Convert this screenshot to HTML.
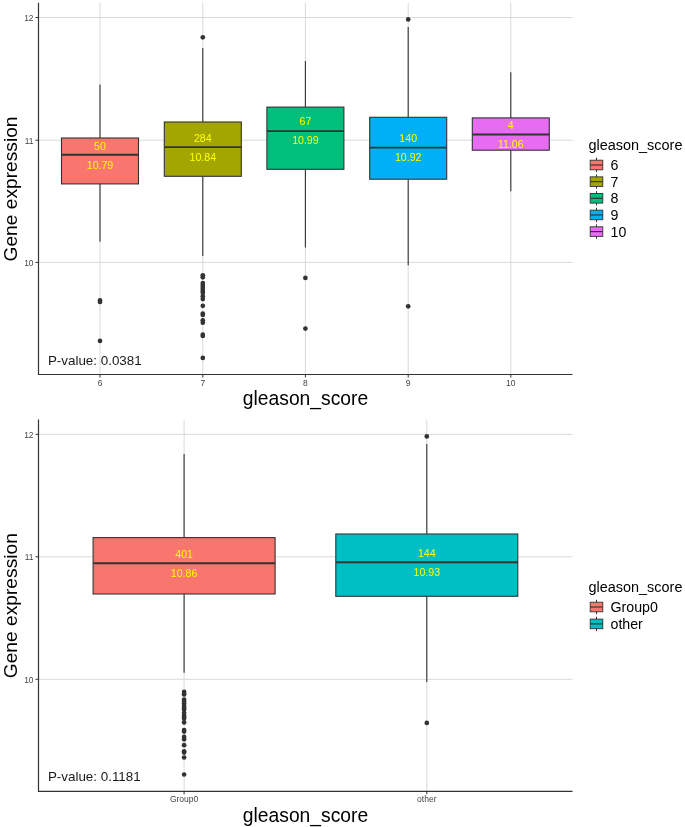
<!DOCTYPE html>
<html><head><meta charset="utf-8"><title>Gene expression by gleason_score</title>
<style>
html,body{margin:0;padding:0;background:#fff;}
body{width:685px;height:827px;overflow:hidden;}
svg{display:block;font-family:"Liberation Sans", sans-serif;}
</style></head><body>
<svg width="685" height="827" viewBox="0 0 685 827">
<rect width="685" height="827" fill="#ffffff"/>
<g id="top">
<line x1="38.5" x2="572.5" y1="17.5" y2="17.5" stroke="#d9d9d9" stroke-width="1"/>
<line x1="38.5" x2="572.5" y1="140.2" y2="140.2" stroke="#d9d9d9" stroke-width="1"/>
<line x1="38.5" x2="572.5" y1="262.4" y2="262.4" stroke="#d9d9d9" stroke-width="1"/>
<line x1="100" x2="100" y1="2.8" y2="374.5" stroke="#d9d9d9" stroke-width="1"/>
<line x1="202.8" x2="202.8" y1="2.8" y2="374.5" stroke="#d9d9d9" stroke-width="1"/>
<line x1="305.4" x2="305.4" y1="2.8" y2="374.5" stroke="#d9d9d9" stroke-width="1"/>
<line x1="408.2" x2="408.2" y1="2.8" y2="374.5" stroke="#d9d9d9" stroke-width="1"/>
<line x1="510.8" x2="510.8" y1="2.8" y2="374.5" stroke="#d9d9d9" stroke-width="1"/>
<line x1="100" x2="100" y1="84.6" y2="138" stroke="#333333" stroke-width="1.1"/>
<line x1="100" x2="100" y1="183.9" y2="241.7" stroke="#333333" stroke-width="1.1"/>
<rect x="61.5" y="138" width="77.0" height="45.900000000000006" fill="#F8766D" stroke="#333333" stroke-width="1.1"/>
<line x1="61.5" x2="138.5" y1="154.8" y2="154.8" stroke="#333333" stroke-width="1.95"/>
<circle cx="100" cy="300.4" r="2.35" fill="#333333"/>
<circle cx="100" cy="302" r="2.35" fill="#333333"/>
<circle cx="100" cy="340.9" r="2.35" fill="#333333"/>
<text x="100" y="149.9" font-size="10.6" fill="#ffff00" text-anchor="middle">50</text>
<text x="100" y="169" font-size="10.6" fill="#ffff00" text-anchor="middle">10.79</text>
<line x1="202.8" x2="202.8" y1="48" y2="122" stroke="#333333" stroke-width="1.1"/>
<line x1="202.8" x2="202.8" y1="176.3" y2="256" stroke="#333333" stroke-width="1.1"/>
<rect x="164.3" y="122" width="77.0" height="54.30000000000001" fill="#A3A500" stroke="#333333" stroke-width="1.1"/>
<line x1="164.3" x2="241.3" y1="147.1" y2="147.1" stroke="#333333" stroke-width="1.95"/>
<circle cx="202.8" cy="37.3" r="2.35" fill="#333333"/>
<circle cx="202.8" cy="275.3" r="2.35" fill="#333333"/>
<circle cx="202.8" cy="277.3" r="2.35" fill="#333333"/>
<circle cx="202.8" cy="283" r="2.35" fill="#333333"/>
<circle cx="202.8" cy="285" r="2.35" fill="#333333"/>
<circle cx="202.8" cy="287" r="2.35" fill="#333333"/>
<circle cx="202.8" cy="289" r="2.35" fill="#333333"/>
<circle cx="202.8" cy="291" r="2.35" fill="#333333"/>
<circle cx="202.8" cy="292.7" r="2.35" fill="#333333"/>
<circle cx="202.8" cy="296.2" r="2.35" fill="#333333"/>
<circle cx="202.8" cy="299.1" r="2.35" fill="#333333"/>
<circle cx="202.8" cy="305.8" r="2.35" fill="#333333"/>
<circle cx="202.8" cy="313.5" r="2.35" fill="#333333"/>
<circle cx="202.8" cy="315" r="2.35" fill="#333333"/>
<circle cx="202.8" cy="320.3" r="2.35" fill="#333333"/>
<circle cx="202.8" cy="322.7" r="2.35" fill="#333333"/>
<circle cx="202.8" cy="334.7" r="2.35" fill="#333333"/>
<circle cx="202.8" cy="336" r="2.35" fill="#333333"/>
<circle cx="202.8" cy="357.9" r="2.35" fill="#333333"/>
<text x="202.8" y="141.6" font-size="10.6" fill="#ffff00" text-anchor="middle">284</text>
<text x="202.8" y="160.6" font-size="10.6" fill="#ffff00" text-anchor="middle">10.84</text>
<line x1="305.4" x2="305.4" y1="60.9" y2="107.1" stroke="#333333" stroke-width="1.1"/>
<line x1="305.4" x2="305.4" y1="169.3" y2="247.5" stroke="#333333" stroke-width="1.1"/>
<rect x="266.9" y="107.1" width="77.0" height="62.20000000000002" fill="#00BF7D" stroke="#333333" stroke-width="1.1"/>
<line x1="266.9" x2="343.9" y1="131.1" y2="131.1" stroke="#333333" stroke-width="1.95"/>
<circle cx="305.4" cy="277.9" r="2.35" fill="#333333"/>
<circle cx="305.4" cy="328.6" r="2.35" fill="#333333"/>
<text x="305.4" y="125.2" font-size="10.6" fill="#ffff00" text-anchor="middle">67</text>
<text x="305.4" y="144.4" font-size="10.6" fill="#ffff00" text-anchor="middle">10.99</text>
<line x1="408.2" x2="408.2" y1="27" y2="117.3" stroke="#333333" stroke-width="1.1"/>
<line x1="408.2" x2="408.2" y1="179.2" y2="265.2" stroke="#333333" stroke-width="1.1"/>
<rect x="369.7" y="117.3" width="77.0" height="61.89999999999999" fill="#00B0F6" stroke="#333333" stroke-width="1.1"/>
<line x1="369.7" x2="446.7" y1="147.6" y2="147.6" stroke="#333333" stroke-width="1.95"/>
<circle cx="408.2" cy="19.4" r="2.35" fill="#333333"/>
<circle cx="408.2" cy="306.3" r="2.35" fill="#333333"/>
<text x="408.2" y="142" font-size="10.6" fill="#ffff00" text-anchor="middle">140</text>
<text x="408.2" y="161.3" font-size="10.6" fill="#ffff00" text-anchor="middle">10.92</text>
<line x1="510.8" x2="510.8" y1="72.2" y2="117.9" stroke="#333333" stroke-width="1.1"/>
<line x1="510.8" x2="510.8" y1="150.2" y2="191.2" stroke="#333333" stroke-width="1.1"/>
<rect x="472.3" y="117.9" width="77.0" height="32.29999999999998" fill="#E76BF3" stroke="#333333" stroke-width="1.1"/>
<line x1="472.3" x2="549.3" y1="134.5" y2="134.5" stroke="#333333" stroke-width="1.95"/>
<text x="510.8" y="129" font-size="10.6" fill="#ffff00" text-anchor="middle">4</text>
<text x="510.8" y="148" font-size="10.6" fill="#ffff00" text-anchor="middle">11.06</text>
<line x1="38.5" x2="38.5" y1="2.8" y2="375.1" stroke="#333333" stroke-width="1.2"/>
<line x1="38.5" x2="572.5" y1="374.5" y2="374.5" stroke="#333333" stroke-width="1.2"/>
<line x1="35.5" x2="38.5" y1="17.5" y2="17.5" stroke="#333333" stroke-width="1"/>
<text x="33.5" y="20.9" font-size="8.4" fill="#444" text-anchor="end">12</text>
<line x1="35.5" x2="38.5" y1="140.2" y2="140.2" stroke="#333333" stroke-width="1"/>
<text x="33.5" y="143.6" font-size="8.4" fill="#444" text-anchor="end">11</text>
<line x1="35.5" x2="38.5" y1="262.4" y2="262.4" stroke="#333333" stroke-width="1"/>
<text x="33.5" y="265.79999999999995" font-size="8.4" fill="#444" text-anchor="end">10</text>
<line x1="100" x2="100" y1="374.5" y2="377.5" stroke="#333333" stroke-width="1"/>
<text x="100" y="385.6" font-size="8.5" fill="#444" text-anchor="middle">6</text>
<line x1="202.8" x2="202.8" y1="374.5" y2="377.5" stroke="#333333" stroke-width="1"/>
<text x="202.8" y="385.6" font-size="8.5" fill="#444" text-anchor="middle">7</text>
<line x1="305.4" x2="305.4" y1="374.5" y2="377.5" stroke="#333333" stroke-width="1"/>
<text x="305.4" y="385.6" font-size="8.5" fill="#444" text-anchor="middle">8</text>
<line x1="408.2" x2="408.2" y1="374.5" y2="377.5" stroke="#333333" stroke-width="1"/>
<text x="408.2" y="385.6" font-size="8.5" fill="#444" text-anchor="middle">9</text>
<line x1="510.8" x2="510.8" y1="374.5" y2="377.5" stroke="#333333" stroke-width="1"/>
<text x="510.8" y="385.6" font-size="8.5" fill="#444" text-anchor="middle">10</text>
<text x="47.9" y="364.7" font-size="13.4" fill="#1a1a1a">P-value: 0.0381</text>
<text x="305.5" y="405" font-size="19.3" fill="#000" text-anchor="middle">gleason_score</text>
<text transform="translate(17.3,189) rotate(-90)" font-size="19.2" fill="#000" text-anchor="middle">Gene expression</text>
<text x="588.5" y="149.5" font-size="14.45" fill="#000">gleason_score</text>
<line x1="596.5" x2="596.5" y1="157.8" y2="172.2" stroke="#333333" stroke-width="1"/>
<rect x="590.2" y="160.2" width="12.6" height="9.6" fill="#F8766D" stroke="#333333" stroke-width="0.9"/>
<line x1="590.2" x2="602.8" y1="165.0" y2="165.0" stroke="#333333" stroke-width="1.15"/>
<text x="610.5" y="170.0" font-size="14.2" fill="#000">6</text>
<line x1="596.5" x2="596.5" y1="174.45000000000002" y2="188.85" stroke="#333333" stroke-width="1"/>
<rect x="590.2" y="176.85" width="12.6" height="9.6" fill="#A3A500" stroke="#333333" stroke-width="0.9"/>
<line x1="590.2" x2="602.8" y1="181.65" y2="181.65" stroke="#333333" stroke-width="1.15"/>
<text x="610.5" y="186.65" font-size="14.2" fill="#000">7</text>
<line x1="596.5" x2="596.5" y1="191.10000000000002" y2="205.5" stroke="#333333" stroke-width="1"/>
<rect x="590.2" y="193.5" width="12.6" height="9.6" fill="#00BF7D" stroke="#333333" stroke-width="0.9"/>
<line x1="590.2" x2="602.8" y1="198.3" y2="198.3" stroke="#333333" stroke-width="1.15"/>
<text x="610.5" y="203.3" font-size="14.2" fill="#000">8</text>
<line x1="596.5" x2="596.5" y1="207.75" y2="222.14999999999998" stroke="#333333" stroke-width="1"/>
<rect x="590.2" y="210.14999999999998" width="12.6" height="9.6" fill="#00B0F6" stroke="#333333" stroke-width="0.9"/>
<line x1="590.2" x2="602.8" y1="214.95" y2="214.95" stroke="#333333" stroke-width="1.15"/>
<text x="610.5" y="219.95" font-size="14.2" fill="#000">9</text>
<line x1="596.5" x2="596.5" y1="224.4" y2="238.79999999999998" stroke="#333333" stroke-width="1"/>
<rect x="590.2" y="226.79999999999998" width="12.6" height="9.6" fill="#E76BF3" stroke="#333333" stroke-width="0.9"/>
<line x1="590.2" x2="602.8" y1="231.6" y2="231.6" stroke="#333333" stroke-width="1.15"/>
<text x="610.5" y="236.6" font-size="14.2" fill="#000">10</text>
</g>
<g id="bottom">
<line x1="38.5" x2="572.5" y1="434.3" y2="434.3" stroke="#d9d9d9" stroke-width="1"/>
<line x1="38.5" x2="572.5" y1="556.8" y2="556.8" stroke="#d9d9d9" stroke-width="1"/>
<line x1="38.5" x2="572.5" y1="679.3" y2="679.3" stroke="#d9d9d9" stroke-width="1"/>
<line x1="184.1" x2="184.1" y1="419.5" y2="791.3" stroke="#d9d9d9" stroke-width="1"/>
<line x1="426.8" x2="426.8" y1="419.5" y2="791.3" stroke="#d9d9d9" stroke-width="1"/>
<line x1="184.1" x2="184.1" y1="454" y2="537.6" stroke="#333333" stroke-width="1.1"/>
<line x1="184.1" x2="184.1" y1="594" y2="672.8" stroke="#333333" stroke-width="1.1"/>
<rect x="93.1" y="537.6" width="182" height="56.39999999999998" fill="#F8766D" stroke="#333333" stroke-width="1.1"/>
<line x1="93.1" x2="275.1" y1="563.2" y2="563.2" stroke="#333333" stroke-width="1.95"/>
<circle cx="184.1" cy="691.9" r="2.35" fill="#333333"/>
<circle cx="184.1" cy="693.9" r="2.35" fill="#333333"/>
<circle cx="184.1" cy="694.5" r="2.35" fill="#333333"/>
<circle cx="184.1" cy="699.6" r="2.35" fill="#333333"/>
<circle cx="184.1" cy="701.6" r="2.35" fill="#333333"/>
<circle cx="184.1" cy="703.6" r="2.35" fill="#333333"/>
<circle cx="184.1" cy="705.6" r="2.35" fill="#333333"/>
<circle cx="184.1" cy="707.6" r="2.35" fill="#333333"/>
<circle cx="184.1" cy="709.3" r="2.35" fill="#333333"/>
<circle cx="184.1" cy="712.8" r="2.35" fill="#333333"/>
<circle cx="184.1" cy="715.7" r="2.35" fill="#333333"/>
<circle cx="184.1" cy="717.0" r="2.35" fill="#333333"/>
<circle cx="184.1" cy="718.6" r="2.35" fill="#333333"/>
<circle cx="184.1" cy="722.4" r="2.35" fill="#333333"/>
<circle cx="184.1" cy="730.1" r="2.35" fill="#333333"/>
<circle cx="184.1" cy="731.6" r="2.35" fill="#333333"/>
<circle cx="184.1" cy="736.9" r="2.35" fill="#333333"/>
<circle cx="184.1" cy="739.3" r="2.35" fill="#333333"/>
<circle cx="184.1" cy="745.2" r="2.35" fill="#333333"/>
<circle cx="184.1" cy="751.3" r="2.35" fill="#333333"/>
<circle cx="184.1" cy="752.6" r="2.35" fill="#333333"/>
<circle cx="184.1" cy="757.5" r="2.35" fill="#333333"/>
<circle cx="184.1" cy="774.5" r="2.35" fill="#333333"/>
<text x="184.1" y="557.8" font-size="10.6" fill="#ffff00" text-anchor="middle">401</text>
<text x="184.1" y="577.2" font-size="10.6" fill="#ffff00" text-anchor="middle">10.86</text>
<line x1="426.8" x2="426.8" y1="444" y2="534" stroke="#333333" stroke-width="1.1"/>
<line x1="426.8" x2="426.8" y1="596.3" y2="682" stroke="#333333" stroke-width="1.1"/>
<rect x="335.8" y="534" width="182" height="62.299999999999955" fill="#00BFC4" stroke="#333333" stroke-width="1.1"/>
<line x1="335.8" x2="517.8" y1="562.2" y2="562.2" stroke="#333333" stroke-width="1.95"/>
<circle cx="426.8" cy="436.4" r="2.35" fill="#333333"/>
<circle cx="426.8" cy="722.9000000000001" r="2.35" fill="#333333"/>
<text x="426.8" y="557.2" font-size="10.6" fill="#ffff00" text-anchor="middle">144</text>
<text x="426.8" y="575.9" font-size="10.6" fill="#ffff00" text-anchor="middle">10.93</text>
<line x1="38.5" x2="38.5" y1="419.5" y2="791.9" stroke="#333333" stroke-width="1.2"/>
<line x1="38.5" x2="572.5" y1="791.3" y2="791.3" stroke="#333333" stroke-width="1.2"/>
<line x1="35.5" x2="38.5" y1="434.3" y2="434.3" stroke="#333333" stroke-width="1"/>
<text x="33.5" y="437.7" font-size="8.4" fill="#444" text-anchor="end">12</text>
<line x1="35.5" x2="38.5" y1="556.8" y2="556.8" stroke="#333333" stroke-width="1"/>
<text x="33.5" y="560.1999999999999" font-size="8.4" fill="#444" text-anchor="end">11</text>
<line x1="35.5" x2="38.5" y1="679.3" y2="679.3" stroke="#333333" stroke-width="1"/>
<text x="33.5" y="682.6999999999999" font-size="8.4" fill="#444" text-anchor="end">10</text>
<line x1="184.1" x2="184.1" y1="791.3" y2="794.3" stroke="#333333" stroke-width="1"/>
<text x="184.1" y="802.4" font-size="8.5" fill="#444" text-anchor="middle">Group0</text>
<line x1="426.8" x2="426.8" y1="791.3" y2="794.3" stroke="#333333" stroke-width="1"/>
<text x="426.8" y="802.4" font-size="8.5" fill="#444" text-anchor="middle">other</text>
<text x="47.9" y="781.2" font-size="13.4" fill="#1a1a1a">P-value: 0.1181</text>
<text x="305.5" y="822" font-size="19.3" fill="#000" text-anchor="middle">gleason_score</text>
<text transform="translate(17.3,605.7) rotate(-90)" font-size="19.2" fill="#000" text-anchor="middle">Gene expression</text>
<text x="588.5" y="592" font-size="14.45" fill="#000">gleason_score</text>
<line x1="596.5" x2="596.5" y1="599.8" y2="614.2" stroke="#333333" stroke-width="1"/>
<rect x="590.2" y="602.2" width="12.6" height="9.6" fill="#F8766D" stroke="#333333" stroke-width="0.9"/>
<line x1="590.2" x2="602.8" y1="607.0" y2="607.0" stroke="#333333" stroke-width="1.15"/>
<text x="610.5" y="612.0" font-size="14.2" fill="#000">Group0</text>
<line x1="596.5" x2="596.5" y1="616.6999999999999" y2="631.1" stroke="#333333" stroke-width="1"/>
<rect x="590.2" y="619.1" width="12.6" height="9.6" fill="#00BFC4" stroke="#333333" stroke-width="0.9"/>
<line x1="590.2" x2="602.8" y1="623.9" y2="623.9" stroke="#333333" stroke-width="1.15"/>
<text x="610.5" y="628.9" font-size="14.2" fill="#000">other</text>
</g>
</svg></body></html>
